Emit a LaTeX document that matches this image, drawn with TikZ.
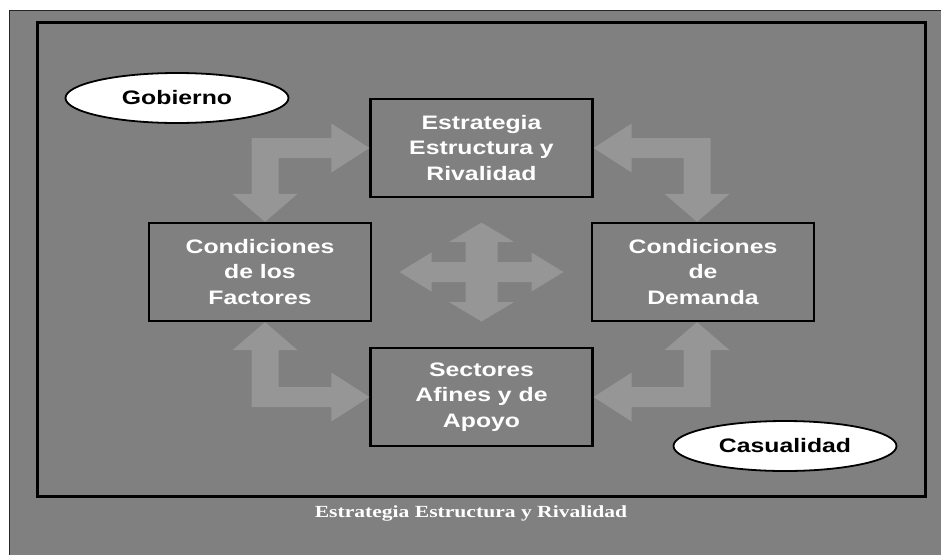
\documentclass[tikz,border=0pt]{standalone}
\usepackage{fontspec}
\usetikzlibrary{calc, shapes.geometric}
\newfontfamily\boxfont[FakeStretch=1.27]{Liberation Sans}
\newfontfamily\capfont[FakeStretch=1.27]{Liberation Serif}
\definecolor{panel}{HTML}{808080}
\definecolor{flow}{HTML}{969696}

% L-shaped double block arrow: #1 = tip of the horizontal arm, #2 = tip of the vertical arm
\newcommand{\elbow}[2]{%
  \fill[flow] let \p1=(#1), \p2=(#2), \n1={sign(\x1-\x2)}, \n2={sign(\y2-\y1)} in
    (\x1,\y1) -- ({\x1-(\n1)*38pt},{\y1+(\n2)*24.5pt}) -- ({\x1-(\n1)*38pt},{\y1+(\n2)*10pt})
    -- ({\x2+(\n1)*13.5pt},{\y1+(\n2)*10pt}) -- ({\x2+(\n1)*13.5pt},{\y2-(\n2)*28pt})
    -- ({\x2+(\n1)*32.5pt},{\y2-(\n2)*28pt}) -- (\x2,\y2)
    -- ({\x2-(\n1)*32.5pt},{\y2-(\n2)*28pt}) -- ({\x2-(\n1)*13.5pt},{\y2-(\n2)*28pt})
    -- ({\x2-(\n1)*13.5pt},{\y1-(\n2)*10pt}) -- ({\x1-(\n1)*38pt},{\y1-(\n2)*10pt})
    -- ({\x1-(\n1)*38pt},{\y1-(\n2)*24.5pt}) -- cycle;}

\begin{document}
\begin{tikzpicture}[x=1pt, y=-1pt,
    stage/.style={draw=black, line width=2.2pt, fill=panel, minimum width=222pt, minimum height=98pt,
      inner sep=0pt, align=center, text=white, font=\boxfont\bfseries\fontsize{19.5}{25.5}\selectfont},
    actor/.style={ellipse, draw=black, line width=1.8pt, fill=white, minimum width=223pt, minimum height=50pt,
      inner sep=0pt, font=\boxfont\bfseries\fontsize{19.5}{24}\selectfont},
    caption/.style={text=white, inner sep=0pt, font=\capfont\bfseries\fontsize{17}{20}\selectfont}]
    \useasboundingbox (0,0) rectangle (941,555);
    \fill[panel] (9,10) rectangle (941,555);
    \draw[line width=1pt, black!85] (941,10.5) -- (9.5,10.5) -- (9.5,555);
    \draw[line width=3pt] (37,22) rectangle (925,496);

    \node[stage] (est) at (481.5,148) {Estrategia\\Estructura y\\Rivalidad};
    \node[stage] (fac) at (260,272) {Condiciones\\de los\\Factores};
    \node[stage] (dem) at (703,272) {Condiciones\\de\\Demanda};
    \node[stage] (sec) at (481.5,397) {Sectores\\Afines y de\\Apoyo};
    \node[actor] (gob) at (177,98) {Gobierno};
    \node[actor] (cas) at (785,446) {Casualidad};
    \node[caption] (cap) at (471,513) {Estrategia Estructura y Rivalidad};

    \elbow{est.west}{$(fac.north)+(5,0)$}
    \elbow{est.east}{$(dem.north)+(-6,0)$}
    \elbow{sec.west}{$(fac.south)+(5,0)$}
    \elbow{sec.east}{$(dem.south)+(-6,0)$}

    % four-way arrow in the middle
    \coordinate (hub) at ($(fac.east)!0.5!(dem.west)$);
    \fill[flow, shift={(hub)}] (82,0) -- (50,19.5) -- (50,10) -- (16,10) -- (16,30) -- (32.5,30)
      -- (0,49.5) -- (-32.5,30) -- (-16,30) -- (-16,10) -- (-50,10) -- (-50,19.5) -- (-82,0)
      -- (-50,-19.5) -- (-50,-10) -- (-16,-10) -- (-16,-30) -- (-32.5,-30) -- (0,-49.5)
      -- (32.5,-30) -- (16,-30) -- (16,-10) -- (50,-10) -- (50,-19.5) -- cycle;
\end{tikzpicture}
\end{document}
